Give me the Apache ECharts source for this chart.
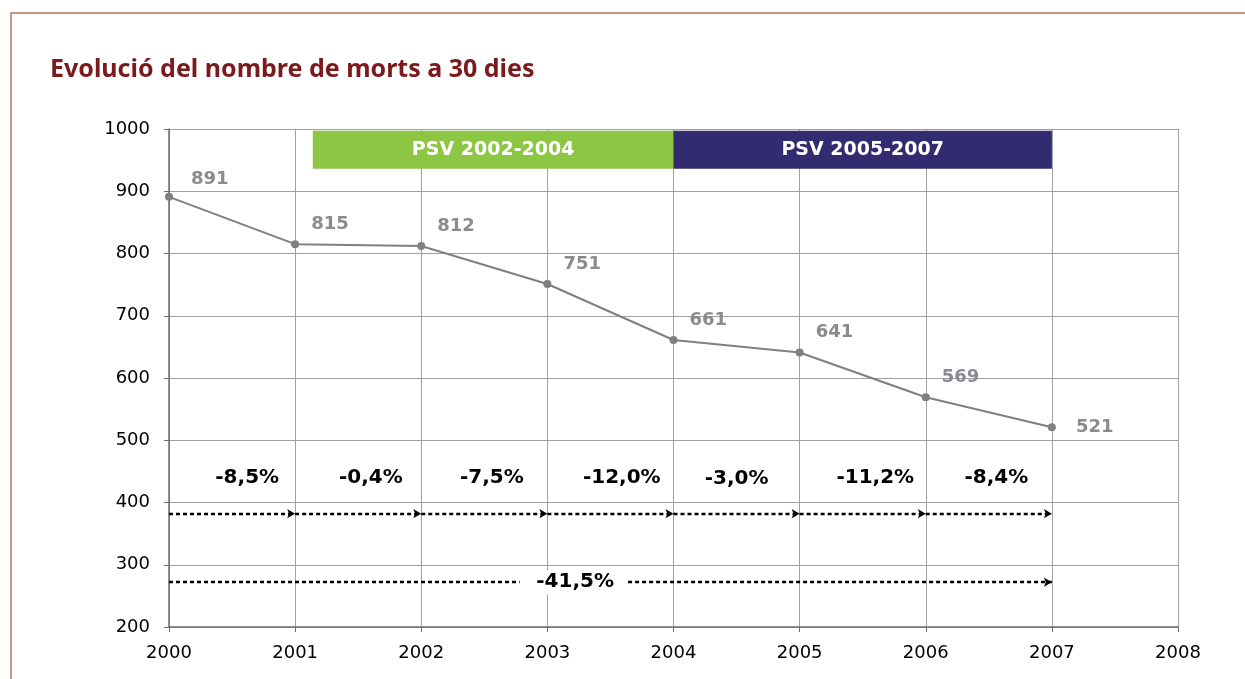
<!DOCTYPE html>
<html>
<head>
<meta charset="utf-8">
<script src="https://cdn.jsdelivr.net/npm/echarts@6/dist/echarts.min.js"></script>
<style>
  html, body { margin: 0; padding: 0; background: #fff; }
  #chart { width: 1245px; height: 679px; }
</style>
</head>
<body>
<div id="chart"></div>
<script>
// dades
var years = [2000, 2001, 2002, 2003, 2004, 2005, 2006, 2007];
var deaths = [891, 815, 812, 751, 661, 641, 569, 521];

// variacions anuals (etiqueta, posicio x, posicio y)
var pctLabels = ['-8,5%', '-0,4%', '-7,5%', '-12,0%', '-3,0%', '-11,2%', '-8,4%'];
var pctX = [2000.62, 2001.6, 2002.56, 2003.59, 2004.5, 2005.6, 2006.56];
var pctY = [440, 440, 440, 440, 438, 440, 440];
var totalLabel = '-41,5%';
var totalX = 2003.22;

// fletxes
var arrowLevel = 382;
var totalLevel = 272;
var totalGap = [2002.78, 2003.64];

// periodes PSV
var periods = [
  { name: 'PSV 2002-2004', from: 2001.14, to: 2004, color: '#8dc642' },
  { name: 'PSV 2005-2007', from: 2004, to: 2007, color: '#322b70' }
];
var periodTop = 997;
var periodBottom = 936;

var chart = echarts.init(document.getElementById('chart'));

var arrows = [];
for (var i = 0; i < years.length - 1; i++) {
  arrows.push([{ coord: [years[i], arrowLevel] }, { coord: [years[i + 1], arrowLevel] }]);
}
arrows.push([{ coord: [years[0], totalLevel], symbol: 'none' }, { coord: [totalGap[0], totalLevel], symbol: 'none' }]);
arrows.push([{ coord: [totalGap[1], totalLevel] }, { coord: [years[years.length - 1], totalLevel] }]);

var lineData = years.map(function (y, i) {
  var d = { value: [y, deaths[i]] };
  if (i === 0) d.label = { offset: [6, -18] };
  if (i === years.length - 1) d.label = { offset: [8, 0] };
  return d;
});

var pctData = pctLabels.map(function (t, i) {
  return { value: [pctX[i], pctY[i]], name: t };
});
pctData.push({
  value: [totalX, totalLevel], name: totalLabel,
  label: { backgroundColor: '#fff', padding: [2, 10] }
});

var option = {
  backgroundColor: '#fff',
  animation: false,
  title: {
    text: 'Evolució del nombre de morts a 30 dies',
    left: 45, top: 52,
    textStyle: { color: '#7b1a1c', fontSize: 25, fontWeight: 'bold', fontFamily: 'Noto Sans' }
  },
  graphic: [
    { type: 'line', shape: { x1: 10, y1: 13, x2: 1245, y2: 13 }, style: { stroke: '#c9968a', lineWidth: 2 } },
    { type: 'line', shape: { x1: 11, y1: 12, x2: 11, y2: 679 }, style: { stroke: '#c9968a', lineWidth: 2 } }
  ],
  grid: { left: 169, right: 67, top: 129, bottom: 52 },
  xAxis: {
    type: 'value', min: 2000, max: 2008, interval: 1,
    axisLine: { show: true, onZero: false, lineStyle: { color: '#6e6e6e', width: 1.5 } },
    axisTick: { show: true, length: 5, lineStyle: { color: '#6e6e6e' } },
    axisLabel: {
      color: '#000', fontSize: 18, fontFamily: 'DejaVu Sans', margin: 17,
      formatter: function (v) { return String(v); }
    },
    splitLine: { show: true, lineStyle: { color: '#a0a0a0', width: 1 } }
  },
  yAxis: {
    type: 'value', min: 200, max: 1000, interval: 100,
    axisLine: { show: true, lineStyle: { color: '#6e6e6e', width: 1.5 } },
    axisTick: { show: true, length: 5, lineStyle: { color: '#6e6e6e' } },
    axisLabel: {
      color: '#000', fontSize: 18, fontFamily: 'DejaVu Sans', margin: 19,
      formatter: function (v) { return String(v); }
    },
    splitLine: { show: true, lineStyle: { color: '#a0a0a0', width: 1 } }
  },
  series: [
    {
      type: 'line',
      data: lineData,
      symbol: 'circle', symbolSize: 8,
      lineStyle: { color: '#7f7f84', width: 2 },
      itemStyle: { color: '#7f7f84' },
      label: {
        show: true, position: 'right', distance: 12, offset: [0, -20],
        color: '#8a8a90', fontSize: 18, fontWeight: 'bold', fontFamily: 'DejaVu Sans',
        formatter: function (p) { return p.value[1]; }
      },
      markArea: {
        silent: true,
        data: periods.map(function (p) {
          return [
            { coord: [p.from, periodTop], itemStyle: { color: p.color }, name: p.name },
            { coord: [p.to, periodBottom] }
          ];
        }),
        label: {
          show: true, position: 'inside', color: '#fff',
          fontSize: 19, fontWeight: 'bold', fontFamily: 'DejaVu Sans'
        }
      },
      z: 5
    },
    {
      type: 'scatter',
      data: pctData,
      symbolSize: 0,
      silent: true,
      itemStyle: { opacity: 1 },
      label: {
        show: true, position: 'inside', color: '#000', textBorderWidth: 0,
        fontSize: 20, fontWeight: 'bold', fontFamily: 'DejaVu Sans',
        formatter: function (p) { return p.name; }
      },
      markLine: {
        silent: true,
        symbol: ['none', 'arrow'], symbolSize: [7, 8],
        label: { show: false },
        lineStyle: { color: '#000', width: 2.4, type: [4, 3], opacity: 1 },
        data: arrows
      },
      z: 4
    }
  ]
};

chart.setOption(option);
</script>
</body>
</html>
